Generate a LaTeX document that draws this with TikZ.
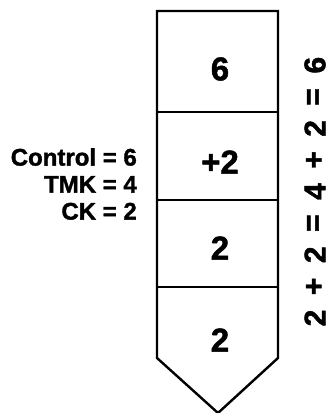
\documentclass[tikz,border=0pt]{standalone}
\usepackage{fontspec}
\setmainfont{Liberation Sans}
\newfontfamily\heavy{Liberation Sans Bold}[FakeBold=1.5]
\usetikzlibrary{positioning}
\tikzset{
  frame/.style={draw=black,line width=2.4pt,line join=miter},
  cellnum/.style={font=\fontsize{33}{33}\selectfont\heavy,inner sep=0pt},
  tag/.style={font=\fontsize{24}{27}\selectfont\heavy,align=right,anchor=east,inner sep=0pt},
  sumglyph/.style={font=\fontsize{30}{30}\selectfont\heavy,rotate=90,inner sep=0pt},
}
\begin{document}
\begin{tikzpicture}[x=1pt,y=1pt]
  \useasboundingbox (0,0) rectangle (334,413);
  % the column of cells with its pointed end
  \coordinate (tl) at (157,402);
  \coordinate (tr) at (278,402);
  \coordinate (sl) at (157,55);
  \coordinate (sr) at (278,55);
  \coordinate (tip) at (218,0);
  \draw[frame] (sl) -- (tl) -- (tr) -- (sr) -- (tip) -- cycle;
  \foreach \y in {301,213,126}
    \draw[frame] (157,\y) -- (278,\y);
  % cell contents
  \node[cellnum] (control) at (220,344) {6};
  \node[cellnum] (gain) at (220,251) {+2};
  \node[cellnum] (ck) at (220,165) {2};
  \node[cellnum] (rest) at (220,73) {2};
  % left labels
  \node[tag] (values) at (137,229) {Control = 6\\TMK = 4\\CK = 2};
  % sum read bottom to top
  \foreach \c [count=\i from 0] in {2,+,2,=,4,+,2,=,6}
    \node[sumglyph] (sum\i) at (315,95+31.6*\i) {\c};
\end{tikzpicture}
\end{document}
